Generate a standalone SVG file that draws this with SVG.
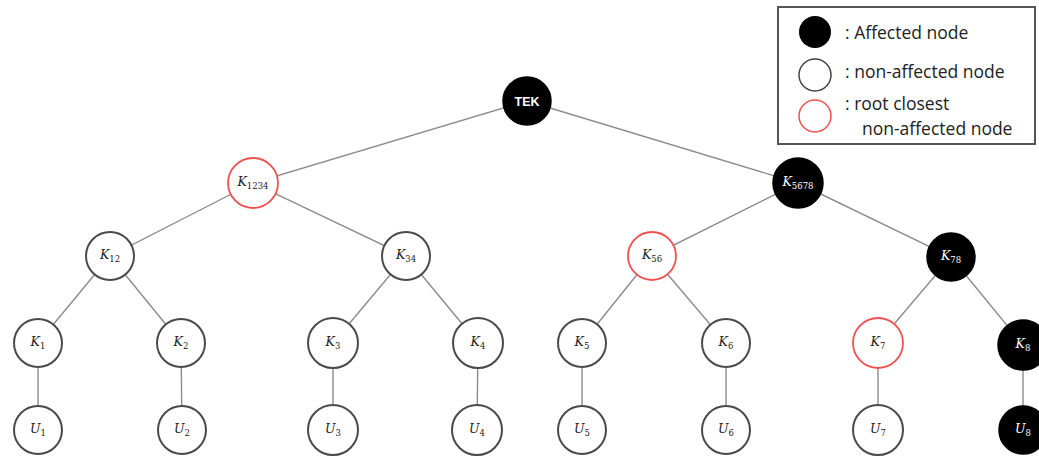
<svg xmlns="http://www.w3.org/2000/svg" width="1039" height="458" viewBox="0 0 1039 458">
<style>
.edge{stroke:#8c8c8c;stroke-width:1.4;fill:none}
.n{fill:#fff;stroke:#4a4a4a;stroke-width:2}
.r{fill:#fff;stroke:#f05050;stroke-width:1.8}
.b{fill:#000;stroke:#000;stroke-width:1.5}
.lbl{font-family:"DejaVu Serif","Liberation Serif",serif;font-style:italic;font-size:12.5px;fill:#222;text-anchor:middle}
.lw{font-family:"DejaVu Serif","Liberation Serif",serif;font-style:italic;font-size:12.5px;fill:#fff;text-anchor:middle}
.sub{font-size:8.5px;font-style:normal}
.tek{font-family:"Liberation Sans",Arial,sans-serif;font-weight:bold;font-size:12.5px;fill:#fff;text-anchor:middle}
.leg{font-family:"Open Sans","Noto Sans",sans-serif;font-size:17.5px;fill:#222}
</style>
<rect width="1039" height="458" fill="#fff"/>
<g id="connectors">
<line class="edge" x1="527" y1="101" x2="253" y2="183"/>
<line class="edge" x1="527" y1="101" x2="798" y2="183"/>
<line class="edge" x1="253" y1="183" x2="110" y2="256"/>
<line class="edge" x1="253" y1="183" x2="406" y2="256"/>
<line class="edge" x1="798" y1="183" x2="652" y2="256"/>
<line class="edge" x1="798" y1="183" x2="951" y2="257"/>
<line class="edge" x1="110" y1="256" x2="38" y2="343"/>
<line class="edge" x1="110" y1="256" x2="181" y2="343"/>
<line class="edge" x1="406" y1="256" x2="333" y2="343"/>
<line class="edge" x1="406" y1="256" x2="478" y2="343"/>
<line class="edge" x1="652" y1="256" x2="582" y2="343"/>
<line class="edge" x1="652" y1="256" x2="726" y2="343"/>
<line class="edge" x1="951" y1="257" x2="878" y2="343"/>
<line class="edge" x1="951" y1="257" x2="1023" y2="345"/>
<line class="edge" x1="38" y1="343" x2="38" y2="430"/>
<line class="edge" x1="181" y1="343" x2="182" y2="430"/>
<line class="edge" x1="333" y1="343" x2="333" y2="430"/>
<line class="edge" x1="478" y1="343" x2="477" y2="430"/>
<line class="edge" x1="582" y1="343" x2="582" y2="430"/>
<line class="edge" x1="726" y1="343" x2="726" y2="430"/>
<line class="edge" x1="878" y1="343" x2="878" y2="430"/>
<line class="edge" x1="1023" y1="345" x2="1023" y2="430"/>
</g>
<g id="TEK"><circle class="b" cx="527" cy="101" r="24"/><text class="tek" x="527" y="105.5">TEK</text></g>
<g id="K1234"><circle class="r" cx="253" cy="183" r="25"/><text class="lbl" x="253" y="186">K<tspan class="sub" dy="3">1234</tspan></text></g>
<g id="K5678"><circle class="b" cx="798" cy="183" r="25"/><text class="lw" x="798" y="186">K<tspan class="sub" dy="3">5678</tspan></text></g>
<g id="K12"><circle class="n" cx="110" cy="256" r="24"/><text class="lbl" x="110" y="259">K<tspan class="sub" dy="3">12</tspan></text></g>
<g id="K34"><circle class="n" cx="406" cy="256" r="24"/><text class="lbl" x="406" y="259">K<tspan class="sub" dy="3">34</tspan></text></g>
<g id="K56"><circle class="r" cx="652" cy="256" r="24"/><text class="lbl" x="652" y="259">K<tspan class="sub" dy="3">56</tspan></text></g>
<g id="K78"><circle class="b" cx="951" cy="257" r="24"/><text class="lw" x="951" y="260">K<tspan class="sub" dy="3">78</tspan></text></g>
<g id="K1"><circle class="n" cx="38" cy="343" r="24"/><text class="lbl" x="38" y="346">K<tspan class="sub" dy="3">1</tspan></text></g>
<g id="K2"><circle class="n" cx="181" cy="343" r="24"/><text class="lbl" x="181" y="346">K<tspan class="sub" dy="3">2</tspan></text></g>
<g id="K3"><circle class="n" cx="333" cy="343" r="25"/><text class="lbl" x="333" y="346">K<tspan class="sub" dy="3">3</tspan></text></g>
<g id="K4"><circle class="n" cx="478" cy="343" r="25"/><text class="lbl" x="478" y="346">K<tspan class="sub" dy="3">4</tspan></text></g>
<g id="K5"><circle class="n" cx="582" cy="343" r="24"/><text class="lbl" x="582" y="346">K<tspan class="sub" dy="3">5</tspan></text></g>
<g id="K6"><circle class="n" cx="726" cy="343" r="24"/><text class="lbl" x="726" y="346">K<tspan class="sub" dy="3">6</tspan></text></g>
<g id="K7"><circle class="r" cx="878" cy="343" r="25"/><text class="lbl" x="878" y="346">K<tspan class="sub" dy="3">7</tspan></text></g>
<g id="K8"><circle class="b" cx="1023" cy="345" r="25"/><text class="lw" x="1023" y="348">K<tspan class="sub" dy="3">8</tspan></text></g>
<g id="U1"><circle class="n" cx="38" cy="430" r="24"/><text class="lbl" x="38" y="433">U<tspan class="sub" dy="3">1</tspan></text></g>
<g id="U2"><circle class="n" cx="182" cy="430" r="24"/><text class="lbl" x="182" y="433">U<tspan class="sub" dy="3">2</tspan></text></g>
<g id="U3"><circle class="n" cx="333" cy="430" r="25"/><text class="lbl" x="333" y="433">U<tspan class="sub" dy="3">3</tspan></text></g>
<g id="U4"><circle class="n" cx="477" cy="430" r="25"/><text class="lbl" x="477" y="433">U<tspan class="sub" dy="3">4</tspan></text></g>
<g id="U5"><circle class="n" cx="582" cy="430" r="24"/><text class="lbl" x="582" y="433">U<tspan class="sub" dy="3">5</tspan></text></g>
<g id="U6"><circle class="n" cx="726" cy="430" r="24"/><text class="lbl" x="726" y="433">U<tspan class="sub" dy="3">6</tspan></text></g>
<g id="U7"><circle class="n" cx="878" cy="430" r="25"/><text class="lbl" x="878" y="433">U<tspan class="sub" dy="3">7</tspan></text></g>
<g id="U8"><circle class="b" cx="1023" cy="430" r="24"/><text class="lw" x="1023" y="433">U<tspan class="sub" dy="3">8</tspan></text></g>
<g id="legend">
<rect x="778" y="7" width="257" height="137" fill="#fff" stroke="#555" stroke-width="2"/>
<circle cx="815" cy="32" r="16" fill="#000"/>
<circle cx="815" cy="75" r="16" fill="#fff" stroke="#444" stroke-width="1.5"/>
<circle cx="815" cy="116" r="16" fill="#fff" stroke="#f05050" stroke-width="1.5"/>
<text class="leg" x="845" y="39">: Affected node</text>
<text class="leg" x="845" y="78">: non-affected node</text>
<text class="leg" x="845" y="110">: root closest</text>
<text class="leg" x="862" y="135">non-affected node</text>
</g>
</svg>
